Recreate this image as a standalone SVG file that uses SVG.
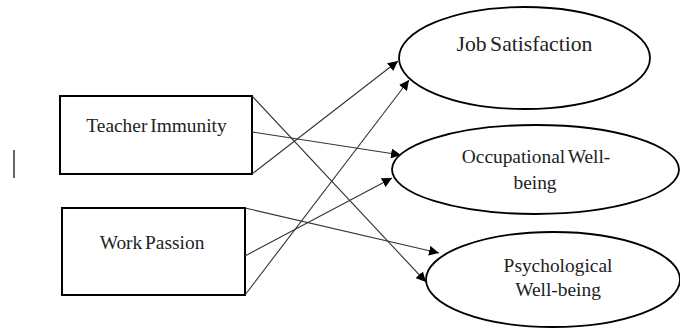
<svg xmlns="http://www.w3.org/2000/svg" width="680" height="333" viewBox="0 0 680 333">
<style>
.box{fill:#fff;stroke:#000;stroke-width:2}
.ell{fill:#fff;stroke:#000;stroke-width:1.8}
.t{font-family:'Liberation Serif','Times New Roman',serif;font-size:19.4px;fill:#222;text-anchor:middle;word-spacing:-2px}
.c{stroke:#333;stroke-width:1.1;fill:none;marker-end:url(#ah)}
</style>
<defs>
<marker id="ah" viewBox="0 0 10 10" refX="10" refY="5" markerWidth="10" markerHeight="10" markerUnits="userSpaceOnUse" orient="auto">
<path d="M0,0 L10,5 L0,10 Z" fill="#000"/>
</marker>
</defs>
<rect width="680" height="333" fill="#fff"/>
<line x1="14" y1="150" x2="14" y2="178" stroke="#000" stroke-width="1.2"/>
<g id="teacher-immunity">
<rect class="box" x="60" y="96" width="192" height="78"/>
<text class="t" x="156.5" y="131.7">Teacher Immunity</text>
</g>
<g id="work-passion">
<rect class="box" x="62" y="208" width="183" height="87"/>
<text class="t" x="152" y="249.3">Work Passion</text>
</g>
<g id="job-satisfaction">
<ellipse class="ell" cx="524.5" cy="58" rx="125.5" ry="51"/>
<text class="t" x="524.5" y="51" style="font-size:21.7px">Job Satisfaction</text>
</g>
<g id="occupational-well-being">
<ellipse class="ell" cx="535.5" cy="169.5" rx="143.5" ry="44.5"/>
<text class="t" x="536" y="162.7">Occupational Well-</text>
<text class="t" x="535" y="189.3">being</text>
</g>
<g id="psychological-well-being">
<ellipse class="ell" cx="553" cy="279.5" rx="127" ry="47.5"/>
<text class="t" x="558" y="271.7">Psychological</text>
<text class="t" x="558" y="296">Well-being</text>
</g>
<g id="connectors">
<line class="c" x1="252" y1="96" x2="426" y2="282"/>
<line class="c" x1="252" y1="132" x2="401" y2="155"/>
<line class="c" x1="252" y1="174" x2="398" y2="61"/>
<line class="c" x1="245" y1="208" x2="439" y2="253"/>
<line class="c" x1="245" y1="256" x2="392" y2="178"/>
<line class="c" x1="245" y1="295" x2="409" y2="80"/>
</g>
</svg>
